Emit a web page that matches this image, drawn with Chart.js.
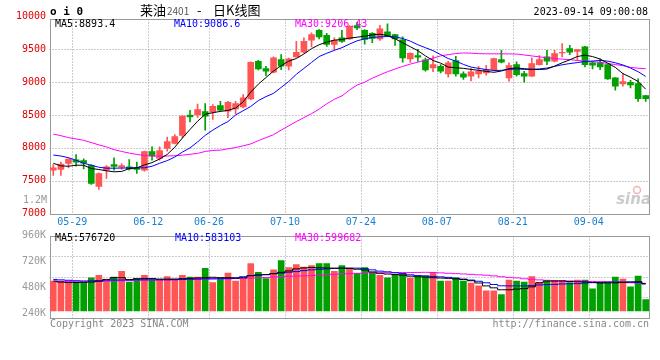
<!DOCTYPE html>
<html>
<head>
<meta charset="utf-8">
<script src="https://cdn.jsdelivr.net/npm/chart.js@4.4.0/dist/chart.umd.min.js"></script>
<style>
  body { margin: 0; background: #fff; width: 660px; height: 360px; position: relative; overflow: hidden; }
  canvas { position: absolute; left: 0; }
  #k { top: 0; width: 660px; height: 232px; }
  #v { top: 226px; width: 660px; height: 134px; }
</style>
</head>
<body>
<canvas id="k" width="660" height="232"></canvas>
<canvas id="v" width="660" height="134"></canvas>
<script>
// trading days shown on the chart
const dates = ['05-25','05-26','05-29','05-30','05-31','06-01','06-02','06-05','06-06','06-07','06-08','06-09','06-12','06-13','06-14','06-15','06-16','06-19','06-20','06-21','06-26','06-27','06-28','06-29','06-30','07-03','07-04','07-05','07-06','07-07','07-10','07-11','07-12','07-13','07-14','07-17','07-18','07-19','07-20','07-21','07-24','07-25','07-26','07-27','07-28','07-31','08-01','08-02','08-03','08-04','08-07','08-08','08-09','08-10','08-11','08-14','08-15','08-16','08-17','08-18','08-21','08-22','08-23','08-24','08-25','08-28','08-29','08-30','08-31','09-01','09-04','09-05','09-06','09-07','09-08','09-11','09-12','09-13','09-14'];
const tickDates = ['05-29','06-12','06-26','07-10','07-24','08-07','08-21','09-04'];

const openP  = [7660,7670,7761,7817,7807,7731,7411,7660,7746,7705,7711,7700,7660,7944,7837,7990,8066,8188,8497,8502,8553,8542,8644,8560,8594,8624,8746,9318,9207,9151,9344,9242,9385,9455,9638,9790,9713,9576,9674,9659,9863,9788,9742,9660,9765,9724,9645,9355,9405,9340,9217,9242,9126,9329,9126,9090,9126,9141,9192,9344,9065,9268,9131,9090,9268,9385,9318,9446,9511,9470,9537,9293,9293,9268,9065,8974,8998,8979,8796];
const closeP = [7695,7751,7827,7782,7766,7457,7609,7711,7716,7731,7680,7670,7944,7878,7959,8096,8172,8482,8472,8584,8482,8633,8575,8694,8674,8761,9303,9202,9166,9370,9242,9355,9455,9622,9724,9689,9576,9637,9622,9851,9826,9650,9668,9813,9706,9660,9370,9438,9380,9187,9268,9166,9293,9126,9075,9156,9166,9192,9359,9303,9253,9116,9090,9283,9344,9318,9435,9456,9456,9496,9268,9257,9233,9050,8938,9009,8958,8750,8750];
const highP  = [7746,7782,7835,7898,7832,7746,7619,7731,7848,7761,7822,7782,7950,8015,8015,8162,8203,8490,8573,8665,8675,8659,8709,8709,8709,8811,9310,9333,9242,9385,9420,9365,9622,9674,9750,9800,9744,9674,9790,9860,9910,9800,9755,9865,9890,9730,9690,9445,9500,9365,9400,9268,9318,9394,9156,9207,9242,9257,9365,9486,9293,9309,9166,9370,9405,9486,9486,9587,9561,9500,9546,9318,9355,9275,9070,9131,9029,9050,8800];
const lowP   = [7579,7579,7695,7721,7680,7441,7365,7533,7660,7670,7660,7609,7644,7812,7812,7949,8060,8152,8396,8462,8269,8431,8557,8460,8522,8609,8730,9187,9100,9140,9192,9187,9380,9445,9537,9659,9546,9496,9607,9650,9800,9580,9600,9635,9693,9560,9305,9300,9315,9166,9160,9141,9075,9090,9040,9019,9065,9105,9170,9293,9014,9090,9000,9085,9260,9268,9310,9385,9420,9335,9233,9202,9192,9040,8877,8938,8912,8706,8706];

const ma5  = [7765,7725,7720,7735,7735,7685,7670,7650,7635,7640,7685,7695,7740,7775,7830,7900,8010,8150,8280,8405,8510,8535,8555,8570,8605,8700,8850,8970,9070,9170,9250,9320,9360,9430,9510,9570,9610,9640,9650,9670,9685,9700,9720,9730,9710,9660,9600,9540,9480,9400,9330,9290,9230,9220,9210,9195,9180,9165,9150,9170,9205,9217,9205,9195,9192,9200,9245,9295,9340,9390,9412,9390,9352,9290,9225,9130,9075,9010,8893];
const ma10 = [7890,7875,7850,7810,7765,7735,7705,7690,7690,7692,7694,7695,7696,7720,7765,7805,7860,7935,8000,8090,8190,8270,8340,8400,8500,8565,8630,8720,8780,8830,8920,9010,9120,9210,9300,9390,9440,9485,9525,9580,9630,9660,9680,9690,9695,9690,9665,9625,9570,9525,9480,9420,9360,9320,9270,9230,9210,9192,9178,9180,9195,9200,9196,9195,9202,9215,9240,9265,9283,9298,9315,9322,9330,9320,9295,9262,9215,9160,9087];
const ma30 = [8210,8185,8155,8135,8115,8080,8045,8015,7972,7945,7920,7900,7882,7875,7872,7875,7880,7888,7902,7915,7945,7960,7965,7985,8005,8030,8060,8110,8155,8200,8270,8335,8400,8460,8520,8590,8670,8740,8790,8880,8955,9000,9060,9110,9160,9200,9240,9275,9305,9335,9365,9400,9420,9436,9445,9442,9434,9432,9431,9431,9430,9428,9414,9400,9385,9372,9360,9350,9344,9330,9320,9312,9303,9285,9268,9252,9225,9212,9206];

// volume in thousands
const volume  = [537,537,537,522,522,567,591,537,573,627,528,561,591,543,549,579,549,591,573,573,654,522,561,612,537,552,699,618,561,642,726,663,690,666,681,699,699,627,681,657,609,663,618,591,567,597,609,564,579,585,618,537,537,567,537,519,492,447,447,411,546,537,528,579,525,540,543,543,522,546,546,465,522,522,573,555,483,582,365];
const volMa5  = [537,528,523,523,525,528,535,552,568,568,550,558,561,560,555,555,556,559,562,566,568,572,569,568,563,568,586,594,597,607,618,631,650,659,663,660,658,657,657,654,647,640,622,609,602,597,591,582,577,573,568,565,562,557,551,540,519,492,474,456,456,462,467,483,521,537,537,537,533,531,529,524,519,520,521,524,528,531,510];
const volMa10 = [552,548,544,540,538,539,541,544,546,547,548,549,549,549,549,549,550,552,554,556,558,558,559,560,568,577,588,592,596,604,611,619,625,634,641,645,650,654,657,657,657,652,641,629,623,614,605,595,588,584,580,576,571,563,555,546,535,521,505,493,492,492,492,495,501,504,506,510,512,513,518,522,525,527,528,528,528,522,514];
const volMa30 = [531,531,531,531,531,531,533,536,538,540,541,543,545,546,547,548,549,550,551,553,555,557,558,558,560,561,564,567,569,575,578,581,584,586,588,590,595,600,604,606,609,612,613,614,614,615,616,616,617,618,617,613,609,606,603,599,595,591,585,577,571,566,558,553,548,544,541,540,538,537,536,533,531,530,528,525,521,519,516];

const priceTicks = [7000,7500,8000,8500,9000,9500,10000];
const volTicks = [240,480,720,960];
const volGrid = [1,2,3];          // quarter lines of the volume panel
const maText = ['MA5:8893.4','MA10:9086.6','MA30:9206.43'];
const volMaText = ['MA5:576720','MA10:583103','MA30:599682'];
const stamp = '2023-09-14 09:00:08';

const UP = '#ff5555', DOWN = '#00a000';
const MA_COLORS = ['#000000', '#0000ff', '#ff00ff'];
const GRID = '#999999';
const MONO = '"DejaVu Sans Mono", monospace';
const CJK = '"Noto Sans CJK SC", sans-serif';

Chart.defaults.font.family = MONO;
Chart.defaults.font.size = 10;

const candleColor = c => closeP[c.dataIndex] >= openP[c.dataIndex] ? UP : DOWN;
// dotted vertical line on the right edge of each labelled day
const gridIdx = tickDates.map(d => dates.indexOf(d) + 1);

function xAxis(showLabels, height) {
  return {
    offset: true,
    grid: { display: false, drawTicks: false },
    border: { display: false },
    ticks: {
      display: showLabels, autoSkip: false, maxRotation: 0, padding: 3, labelOffset: -3.8,
      color: '#1a7fd0',
      callback: (v, i) => gridIdx.includes(i) ? dates[i - 1] : ''
    },
    afterFit: s => { s.height = height; }
  };
}

function maLine(data, i, stepped) {
  return { type: 'line', data: data, borderColor: MA_COLORS[i], borderWidth: 1, pointRadius: 0, stepped: stepped, order: 0 };
}

function txt(ctx, s, x, y, color, font, align) {
  ctx.font = font;
  ctx.fillStyle = color;
  ctx.textAlign = align || 'left';
  ctx.textBaseline = 'middle';
  ctx.fillText(s, x, y);
}

// frame + dotted grid, placed with the chart's own scales
function panel(chart, topShift, yScale, yValues) {
  const { ctx, chartArea: a, scales } = chart;
  const xs = scales.x, ys = scales[yScale];
  const top = Math.round(a.top + topShift) + 0.5;
  const bottom = Math.round(a.bottom) + 0.5;
  ctx.save();
  ctx.strokeStyle = GRID;
  ctx.lineWidth = 1;
  ctx.setLineDash([1, 2]);
  ctx.beginPath();
  gridIdx.forEach(i => {
    const x = Math.round((xs.getPixelForTick(i - 1) + xs.getPixelForTick(i)) / 2) + 0.5;
    ctx.moveTo(x, top);
    ctx.lineTo(x, bottom);
  });
  yValues.forEach(v => {
    const y = Math.round(ys.getPixelForValue(v)) + 0.5;
    ctx.moveTo(a.left, y);
    ctx.lineTo(a.right, y);
  });
  ctx.stroke();
  ctx.setLineDash([]);
  ctx.strokeRect(Math.round(a.left) + 0.5, top, Math.round(a.right - a.left) - 1, bottom - top);
  ctx.restore();
}

const kDecor = {
  id: 'kDecor',
  beforeDatasetsDraw(chart) {
    panel(chart, 2.5, 'y', priceTicks.filter(v => v > 7000 && v < 10000));
  },
  afterDraw(chart) {
    const ctx = chart.ctx;
    ctx.save();
    txt(ctx, 'o i 0', 50, 12, '#000', 'bold 11px ' + MONO);
    txt(ctx, '莱油', 140, 10, '#000', '13px ' + CJK);
    txt(ctx, '2401', 167, 11, '#555', '10px ' + CJK);
    txt(ctx, '-', 197, 10, '#000', '13px ' + CJK);
    txt(ctx, '日K线图', 213, 10, '#000', '13px ' + CJK);
    txt(ctx, stamp, 648, 12.5, '#000', '10px ' + MONO, 'right');
    [55, 174, 295].forEach((x, i) => txt(ctx, maText[i], x, 24.5, MA_COLORS[i], '10px ' + MONO));
    txt(ctx, '1.2M', 47, 200, '#999', '10px ' + MONO, 'right');
    // sina watermark
    ctx.globalAlpha = 0.6;
    ctx.strokeStyle = '#f08080';
    ctx.lineWidth = 1.5;
    ctx.beginPath();
    ctx.arc(637, 190, 3.5, 0, Math.PI * 2);
    ctx.stroke();
    txt(ctx, 'sina', 651, 200, '#a8a8a8', 'italic bold 15px "DejaVu Sans"', 'right');
    ctx.restore();
  }
};

const vDecor = {
  id: 'vDecor',
  beforeDatasetsDraw(chart) { panel(chart, 0.5, 'g', volGrid); },
  afterDraw(chart) {
    const ctx = chart.ctx;
    ctx.save();
    [55, 175, 295].forEach((x, i) => txt(ctx, volMaText[i], x, 12.3, MA_COLORS[i], '10px ' + MONO));
    txt(ctx, 'Copyright 2023 SINA.COM', 50, 98, '#888', '10px ' + MONO);
    txt(ctx, 'http://finance.sina.com.cn', 649, 98, '#888', '10px ' + MONO, 'right');
    ctx.restore();
  }
};

new Chart(document.getElementById('k'), {
  type: 'bar',
  data: {
    labels: dates,
    datasets: [
      maLine(ma5, 0, false),
      maLine(ma10, 1, false),
      maLine(ma30, 2, false),
      {
        data: openP.map((o, i) => [Math.min(o, closeP[i]), Math.max(o, closeP[i])]),
        backgroundColor: candleColor, barThickness: 6, grouped: false, order: 1
      },
      {
        data: lowP.map((l, i) => [l, highP[i]]),
        backgroundColor: candleColor, barThickness: 1, grouped: false, order: 2
      }
    ]
  },
  options: {
    responsive: false,
    animation: false,
    devicePixelRatio: 1,
    layout: { padding: { top: 16.5, right: 10.5, left: 0, bottom: 0 } },
    plugins: { legend: { display: false }, tooltip: { enabled: false } },
    scales: {
      x: xAxis(true, 18.5),
      y: {
        min: 7000, max: 10000,
        afterBuildTicks: s => { s.ticks = priceTicks.map(v => ({ value: v })); },
        grid: { display: false, drawTicks: false },
        border: { display: false },
        ticks: { color: '#e00000', padding: 3.5, callback: v => String(v) },
        afterFit: s => { s.width = 49.5; }
      }
    }
  },
  plugins: [kDecor]
});

new Chart(document.getElementById('v'), {
  type: 'bar',
  data: {
    labels: dates,
    datasets: [
      maLine(volMa5, 0, 'middle'),
      maLine(volMa10, 1, 'middle'),
      maLine(volMa30, 2, 'middle'),
      { data: volume, base: 260, backgroundColor: candleColor, barThickness: 6, order: 1 }
    ]
  },
  options: {
    responsive: false,
    animation: false,
    devicePixelRatio: 1,
    layout: { padding: { top: 7.1, right: 10.5, left: 0, bottom: 0 } },
    plugins: { legend: { display: false }, tooltip: { enabled: false } },
    scales: {
      x: xAxis(false, 42.3),
      y: {
        min: 196.6, max: 960,
        afterBuildTicks: s => { s.ticks = volTicks.map(v => ({ value: v })); },
        grid: { display: false, drawTicks: false },
        border: { display: false },
        ticks: { color: '#999', padding: 3.5, callback: v => v + 'K' },
        afterFit: s => { s.width = 49.5; }
      },
      g: {
        position: 'right', min: 0, max: 4,
        ticks: { display: false },
        grid: { display: false, drawTicks: false },
        border: { display: false },
        afterFit: s => { s.width = 0; }
      }
    }
  },
  plugins: [vDecor]
});
</script>
</body>
</html>
